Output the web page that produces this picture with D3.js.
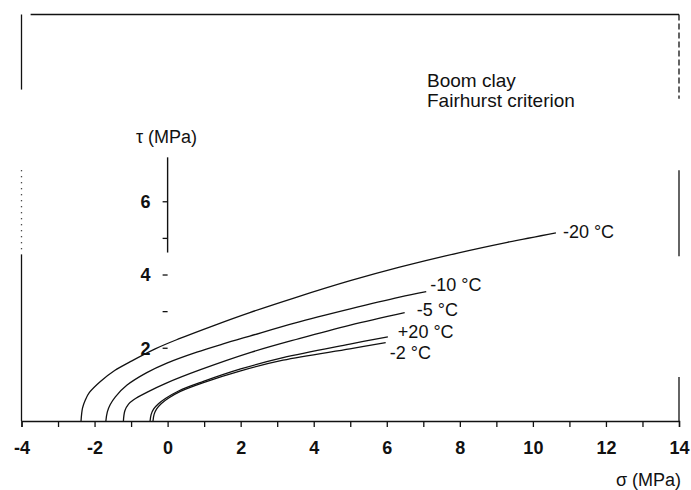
<!DOCTYPE html>
<html>
<head>
<meta charset="utf-8">
<script src="https://cdn.jsdelivr.net/npm/d3@7"></script>
<style>
  body { margin: 0; background: #fff; }
  svg { display: block; }
  text { font-family: "Liberation Sans", Arial, sans-serif; fill: #111; }
  .tick text { font-weight: bold; font-size: 18px; }
</style>
</head>
<body>
<div id="chart"></div>
<script>
'use strict';

const WIDTH = 691;
const HEIGHT = 490;

// sigma (MPa), tau (MPa), one array per temperature
const curveM20 = [[-2.37, 0], [-2.33, 0.35], [-2.25, 0.58], [-2.14, 0.78], [-1.84, 1.08], [-1.45, 1.38],
  [-1.02, 1.62], [-0.34, 1.97], [0.30, 2.24], [1.30, 2.62], [2.25, 2.96], [3.50, 3.37],
  [5.00, 3.83], [6.35, 4.20], [8.00, 4.60], [9.30, 4.88], [10.63, 5.14]];
const curveM10 = [[-1.69, 0], [-1.65, 0.25], [-1.57, 0.45], [-1.43, 0.66], [-1.11, 0.98], [-0.57, 1.32],
  [-0.02, 1.58], [0.80, 1.88], [1.50, 2.10], [2.25, 2.32], [3.50, 2.68], [5.00, 3.06],
  [6.35, 3.38], [7.08, 3.53]];
const curveM5 = [[-1.21, 0], [-1.17, 0.28], [-1.07, 0.46], [-0.93, 0.58], [-0.57, 0.78], [-0.02, 1.04],
  [0.90, 1.40], [2.30, 1.88], [3.60, 2.25], [5.00, 2.62], [6.49, 2.96]];
const curveP20 = [[-0.48, 0], [-0.45, 0.18], [-0.38, 0.33], [-0.25, 0.47], [-0.05, 0.62], [0.30, 0.82],
  [0.98, 1.08], [2.00, 1.42], [3.16, 1.73], [4.99, 2.10], [6.03, 2.30]];
const curveM2 = [[-0.40, 0], [-0.37, 0.18], [-0.30, 0.33], [-0.17, 0.48], [0.03, 0.63], [0.35, 0.81],
  [0.98, 1.05], [2.00, 1.37], [3.16, 1.66], [4.99, 1.97], [5.97, 2.14]];

const curves = [curveM20, curveM10, curveM5, curveP20, curveM2];
const curveLabels = ['-20 °C', '-10 °C', '-5 °C', '+20 °C', '-2 °C'];
// label offset from the end of each curve, in pixels
const labelOffsets = [[7, 5], [4, -1], [12, 3], [10, 1], [4, 16]];

const xTicks = d3.range(-4, 15, 1);
const xTickLabels = [-4, -2, 0, 2, 4, 6, 8, 10, 12, 14];
const yTicks = [2, 3, 4, 5, 6];
const yTickLabels = [2, 4, 6];

const x = d3.scaleLinear().domain([-4, 14]).range([21.5, 679]);
const y = d3.scaleLinear().domain([0, 11.1]).range([421, 14.5]);

const svg = d3.select('#chart').append('svg')
  .attr('width', WIDTH)
  .attr('height', HEIGHT);

// frame (the scan only shows parts of the side edges)
const frame = svg.append('g')
  .attr('stroke', '#111')
  .attr('stroke-width', 1.3)
  .attr('fill', 'none');

frame.append('line')
  .attr('x1', x(-3.75)).attr('x2', x(14))
  .attr('y1', y(11.1)).attr('y2', y(11.1));

const leftSpans = [[11.1, 9.05, null], [6.85, 4.65, '1,5'], [4.55, 0, null]];
const rightSpans = [[11.1, 8.8, '6,3'], [6.85, 4.5, null], [1.2, 0, null]];

leftSpans.forEach(s => {
  frame.append('line')
    .attr('x1', x(-4)).attr('x2', x(-4))
    .attr('y1', y(s[0])).attr('y2', y(s[1]))
    .attr('stroke-dasharray', s[2]);
});
rightSpans.forEach(s => {
  frame.append('line')
    .attr('x1', x(14)).attr('x2', x(14))
    .attr('y1', y(s[0])).attr('y2', y(s[1]))
    .attr('stroke-dasharray', s[2]);
});

// x axis
const xAxis = d3.axisBottom(x)
  .tickValues(xTicks)
  .tickSize(6)
  .tickPadding(14)
  .tickFormat(d => xTickLabels.includes(d) ? String(d) : '');

svg.append('g')
  .attr('transform', 'translate(0,' + y(0) + ')')
  .call(xAxis)
  .call(g => g.select('.domain').attr('stroke', '#111').attr('stroke-width', 1.4))
  .call(g => g.selectAll('.tick line').attr('stroke', '#111').attr('stroke-width', 1.3))
  .call(g => g.selectAll('.tick text').attr('fill', '#111'));

// y axis, drawn at sigma = 0; only its upper part is a continuous line
const yAxis = d3.axisLeft(y)
  .tickValues(yTicks)
  .tickSize(5)
  .tickPadding(12)
  .tickFormat(d => yTickLabels.includes(d) ? String(d) : '');

svg.append('g')
  .attr('transform', 'translate(' + x(0) + ',0)')
  .call(yAxis)
  .call(g => g.select('.domain').remove())
  .call(g => g.selectAll('.tick line').attr('stroke', '#111').attr('stroke-width', 1.3))
  .call(g => g.selectAll('.tick text').attr('fill', '#111').attr('dy', '0.36em'));

svg.append('line')
  .attr('x1', x(0)).attr('x2', x(0))
  .attr('y1', y(7.2)).attr('y2', y(4.6))
  .attr('stroke', '#111')
  .attr('stroke-width', 1.4);

// axis titles
svg.append('text')
  .attr('x', 136).attr('y', 143)
  .style('font-size', '18px')
  .text('τ (MPa)');

svg.append('text')
  .attr('x', 681).attr('y', 486)
  .attr('text-anchor', 'end')
  .style('font-size', '18px')
  .text('σ (MPa)');

// annotation
svg.append('text')
  .attr('x', 427).attr('y', 87)
  .style('font-size', '19px')
  .text('Boom clay');

svg.append('text')
  .attr('x', 427).attr('y', 107)
  .style('font-size', '19px')
  .text('Fairhurst criterion');

// criterion curves
const line = d3.line()
  .x(d => x(d[0]))
  .y(d => y(d[1]))
  .curve(d3.curveCatmullRom.alpha(0.5));

svg.append('g')
  .selectAll('path')
  .data(curves)
  .enter()
    .append('path')
    .attr('d', line)
    .attr('fill', 'none')
    .attr('stroke', '#111')
    .attr('stroke-width', 1.3);

svg.append('g')
  .selectAll('text')
  .data(curves)
  .enter()
    .append('text')
    .attr('x', (d, i) => x(d[d.length - 1][0]) + labelOffsets[i][0])
    .attr('y', (d, i) => y(d[d.length - 1][1]) + labelOffsets[i][1])
    .style('font-size', '18px')
    .text((d, i) => curveLabels[i]);
</script>
</body>
</html>
